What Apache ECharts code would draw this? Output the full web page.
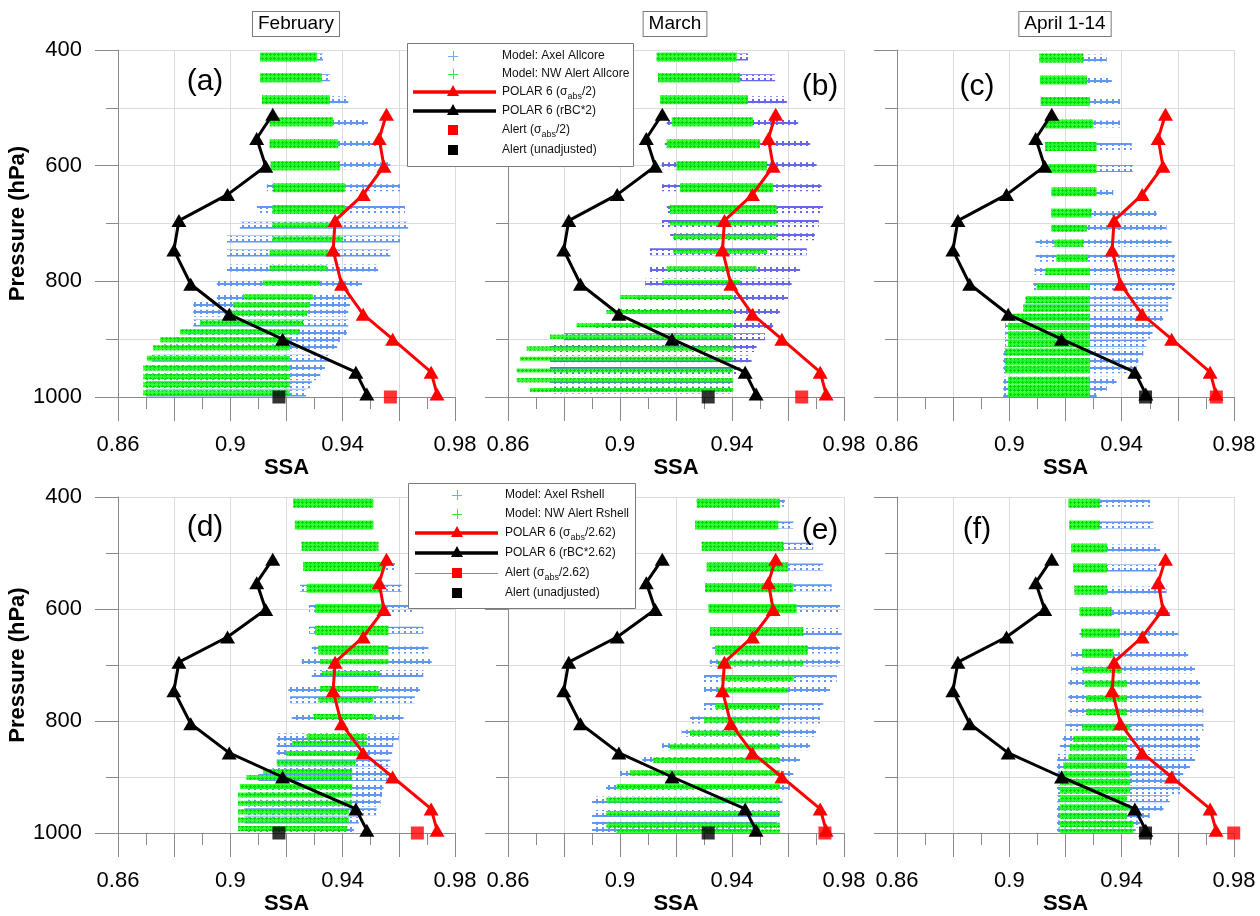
<!DOCTYPE html>
<html>
<head>
<meta charset="utf-8">
<script src="https://cdn.jsdelivr.net/npm/echarts/dist/echarts.min.js"></script>
<style>
  html, body { margin: 0; padding: 0; background: #fff; }
  #chart { width: 1260px; height: 916px; }
</style>
</head>
<body>
<div id="chart"></div>
<script>
// ---------------------------------------------------------------
// SSA profiles: POLAR 6 aircraft, Alert surface values and model rows
// ---------------------------------------------------------------

// POLAR 6 profile (pressure levels, hPa) shared by every panel
const polarPressure = [511, 553, 601, 650, 695, 746, 805, 857, 900, 957, 995];
const polarRbc = [0.9151, 0.9094, 0.9126, 0.8990, 0.8817, 0.8799, 0.8859, 0.8996, 0.9186, 0.9447, 0.9486];
const polarAbs = [0.9556, 0.9530, 0.9547, 0.9473, 0.9373, 0.9366, 0.9396, 0.9473, 0.9578, 0.9715, 0.9736];

// Alert surface values (at 1000 hPa)
const alertPressure = 1000;
const monthNames = ['February', 'March', 'April 1-14'];
const alertUnadjusted = [0.9173, 0.9315, 0.9485];
const alertAbsAllcore = [0.9570, 0.9649, 0.9737];
const alertAbsRshell = [0.9666, 0.9732, 0.9799];

// Model rows: [pressure hPa, lowest SSA, highest SSA]
const axelAllcoreFeb = [
  [412, 0.9106, 0.9330], [448, 0.9106, 0.9355], [486, 0.9113, 0.9420], [524, 0.9140, 0.9490],
  [562, 0.9140, 0.9545], [600, 0.9144, 0.9570], [638, 0.9130, 0.9604], [676, 0.9095, 0.9622],
  [703, 0.9034, 0.9633], [727, 0.8988, 0.9604], [751, 0.8988, 0.9570], [777, 0.8988, 0.9526],
  [803, 0.8952, 0.9469], [827, 0.8952, 0.9426], [841, 0.8868, 0.9426], [855, 0.8868, 0.9420],
  [872, 0.8868, 0.9420], [887, 0.8850, 0.9415], [901, 0.8800, 0.9390], [915, 0.8760, 0.9380],
  [933, 0.8720, 0.9355], [950, 0.8700, 0.9337], [965, 0.8700, 0.9320], [979, 0.8700, 0.9290],
  [993, 0.8700, 0.9270]
];
const nwAlertAllcoreFeb = [
  [412, 0.9106, 0.9309], [448, 0.9106, 0.9326], [486, 0.9113, 0.9355], [524, 0.9140, 0.9366],
  [562, 0.9140, 0.9384], [600, 0.9144, 0.9390], [638, 0.9152, 0.9408], [676, 0.9150, 0.9408],
  [703, 0.9150, 0.9384], [727, 0.9150, 0.9400], [751, 0.9140, 0.9379], [777, 0.9140, 0.9343],
  [803, 0.9116, 0.9319], [827, 0.9045, 0.9295], [841, 0.9010, 0.9284], [855, 0.8988, 0.9273],
  [872, 0.8892, 0.9259], [887, 0.8821, 0.9248], [901, 0.8750, 0.9212], [915, 0.8725, 0.9212],
  [933, 0.8703, 0.9212], [950, 0.8690, 0.9212], [965, 0.8690, 0.9212], [979, 0.8690, 0.9212],
  [993, 0.8690, 0.9212]
];
const axelAllcoreMar = [
  [412, 0.9131, 0.9457], [448, 0.9136, 0.9554], [486, 0.9143, 0.9596], [524, 0.9167, 0.9636],
  [562, 0.9160, 0.9679], [600, 0.9149, 0.9702], [638, 0.9150, 0.9720], [676, 0.9167, 0.9725],
  [700, 0.9150, 0.9710], [723, 0.9179, 0.9696], [749, 0.9107, 0.9667], [778, 0.9107, 0.9643],
  [801, 0.9090, 0.9613], [827, 0.9060, 0.9600], [853, 0.9000, 0.9571], [876, 0.8900, 0.9547],
  [896, 0.8800, 0.9518], [916, 0.8750, 0.9488], [934, 0.8750, 0.9470], [954, 0.8750, 0.9429],
  [971, 0.8750, 0.9404], [988, 0.8750, 0.9404]
];
const nwAlertAllcoreMar = [
  [412, 0.9131, 0.9417], [448, 0.9136, 0.9429], [486, 0.9143, 0.9457], [524, 0.9185, 0.9475],
  [562, 0.9167, 0.9500], [600, 0.9202, 0.9524], [638, 0.9214, 0.9547], [676, 0.9179, 0.9560],
  [700, 0.9179, 0.9560], [723, 0.9190, 0.9560], [749, 0.9190, 0.9525], [778, 0.9167, 0.9488],
  [801, 0.9155, 0.9429], [827, 0.9000, 0.9404], [853, 0.8952, 0.9404], [876, 0.8845, 0.9404],
  [896, 0.8750, 0.9404], [916, 0.8667, 0.9404], [934, 0.8643, 0.9404], [954, 0.8631, 0.9404],
  [971, 0.8631, 0.9404], [988, 0.8679, 0.9404]
];
const axelAllcoreApr = [
  [414, 0.9107, 0.9347], [452, 0.9109, 0.9365], [489, 0.9112, 0.9394], [528, 0.9127, 0.9394],
  [567, 0.9127, 0.9436], [605, 0.9139, 0.9440], [645, 0.9150, 0.9370], [682, 0.9149, 0.9525],
  [708, 0.9150, 0.9560], [734, 0.9094, 0.9578], [760, 0.9094, 0.9590], [783, 0.9090, 0.9590],
  [809, 0.9085, 0.9590], [832, 0.9058, 0.9578], [846, 0.9050, 0.9566], [862, 0.8995, 0.9548],
  [878, 0.8985, 0.9513], [893, 0.8985, 0.9510], [907, 0.8985, 0.9489], [922, 0.8978, 0.9477],
  [939, 0.8978, 0.9460], [953, 0.8978, 0.9454], [971, 0.8978, 0.9382], [984, 0.8978, 0.9347],
  [996, 0.8978, 0.9311]
];
const nwAlertAllcoreApr = [
  [414, 0.9107, 0.9263], [452, 0.9109, 0.9276], [489, 0.9112, 0.9287], [528, 0.9127, 0.9299],
  [567, 0.9127, 0.9311], [605, 0.9139, 0.9311], [645, 0.9150, 0.9311], [682, 0.9149, 0.9293],
  [708, 0.9150, 0.9275], [734, 0.9161, 0.9263], [760, 0.9167, 0.9280], [783, 0.9128, 0.9287],
  [809, 0.9097, 0.9287], [832, 0.9058, 0.9287], [846, 0.9050, 0.9287], [862, 0.9002, 0.9287],
  [878, 0.8995, 0.9287], [893, 0.8995, 0.9287], [907, 0.8995, 0.9287], [922, 0.8985, 0.9287],
  [939, 0.8985, 0.9287], [953, 0.8985, 0.9287], [971, 0.8995, 0.9287], [984, 0.8995, 0.9287],
  [996, 0.8995, 0.9287]
];
const axelRshellFeb = [
  [411, 0.9224, 0.9509], [450, 0.9230, 0.9509], [488, 0.9254, 0.9527], [524, 0.9260, 0.9586],
  [563, 0.9248, 0.9610], [599, 0.9280, 0.9652], [638, 0.9280, 0.9687], [673, 0.9290, 0.9705],
  [694, 0.9254, 0.9717], [715, 0.9290, 0.9687], [742, 0.9207, 0.9675], [762, 0.9213, 0.9657],
  [792, 0.9219, 0.9617], [828, 0.9165, 0.9600], [840, 0.9165, 0.9580], [858, 0.9165, 0.9576],
  [875, 0.9165, 0.9570], [890, 0.9150, 0.9565], [901, 0.9100, 0.9560], [917, 0.9060, 0.9545],
  [932, 0.9050, 0.9540], [947, 0.9050, 0.9535], [962, 0.9050, 0.9521], [977, 0.9050, 0.9458],
  [992, 0.9050, 0.9440]
];
const nwAlertRshellFeb = [
  [411, 0.9224, 0.9509], [450, 0.9230, 0.9509], [488, 0.9254, 0.9527], [524, 0.9260, 0.9545],
  [563, 0.9272, 0.9533], [599, 0.9302, 0.9545], [638, 0.9302, 0.9563], [673, 0.9314, 0.9563],
  [694, 0.9320, 0.9563], [715, 0.9326, 0.9533], [742, 0.9320, 0.9527], [762, 0.9314, 0.9509],
  [792, 0.9296, 0.9510], [828, 0.9272, 0.9485], [840, 0.9220, 0.9485], [858, 0.9200, 0.9460],
  [875, 0.9165, 0.9446], [890, 0.9117, 0.9434], [901, 0.9058, 0.9434], [917, 0.9034, 0.9434],
  [932, 0.9028, 0.9434], [947, 0.9028, 0.9434], [962, 0.9028, 0.9422], [977, 0.9028, 0.9422],
  [992, 0.9028, 0.9416]
];
const axelRshellMar = [
  [411, 0.9274, 0.9589], [450, 0.9268, 0.9619], [488, 0.9292, 0.9690], [525, 0.9310, 0.9726],
  [562, 0.9304, 0.9756], [599, 0.9316, 0.9786], [640, 0.9322, 0.9792], [673, 0.9330, 0.9786],
  [697, 0.9320, 0.9786], [724, 0.9300, 0.9774], [745, 0.9300, 0.9750], [774, 0.9300, 0.9726],
  [798, 0.9250, 0.9714], [822, 0.9220, 0.9700], [846, 0.9150, 0.9679], [870, 0.9080, 0.9643],
  [893, 0.9000, 0.9619], [917, 0.8950, 0.9607], [941, 0.8900, 0.9580], [965, 0.8900, 0.9570],
  [986, 0.8900, 0.9560], [998, 0.8900, 0.9500]
];
const nwAlertRshellMar = [
  [411, 0.9274, 0.9571], [450, 0.9268, 0.9565], [488, 0.9292, 0.9583], [525, 0.9310, 0.9600],
  [562, 0.9304, 0.9619], [599, 0.9316, 0.9631], [640, 0.9322, 0.9655], [673, 0.9340, 0.9670],
  [697, 0.9350, 0.9655], [724, 0.9360, 0.9620], [745, 0.9350, 0.9600], [774, 0.9340, 0.9571],
  [798, 0.9300, 0.9571], [822, 0.9250, 0.9571], [846, 0.9179, 0.9571], [870, 0.9119, 0.9571],
  [893, 0.9036, 0.9571], [917, 0.8988, 0.9571], [941, 0.8952, 0.9571], [965, 0.8952, 0.9571],
  [986, 0.8952, 0.9571], [998, 0.8988, 0.9571]
];
const axelRshellApr = [
  [411, 0.9290, 0.9501], [450, 0.9290, 0.9513], [491, 0.9300, 0.9537], [527, 0.9300, 0.9525],
  [566, 0.9300, 0.9560], [605, 0.9300, 0.9572], [643, 0.9250, 0.9602], [679, 0.9220, 0.9637],
  [709, 0.9220, 0.9661], [733, 0.9210, 0.9679], [760, 0.9210, 0.9684], [784, 0.9210, 0.9691],
  [811, 0.9200, 0.9691], [832, 0.9190, 0.9679], [847, 0.9180, 0.9679], [865, 0.9170, 0.9661],
  [880, 0.9170, 0.9643], [895, 0.9170, 0.9619], [909, 0.9170, 0.9608], [924, 0.9170, 0.9608],
  [939, 0.9170, 0.9572], [954, 0.9170, 0.9549], [969, 0.9170, 0.9500], [984, 0.9170, 0.9465],
  [998, 0.9170, 0.9450]
];
const nwAlertRshellApr = [
  [411, 0.9210, 0.9323], [450, 0.9213, 0.9323], [491, 0.9220, 0.9347], [527, 0.9227, 0.9347],
  [566, 0.9232, 0.9347], [605, 0.9250, 0.9365], [643, 0.9256, 0.9394], [679, 0.9260, 0.9370],
  [709, 0.9262, 0.9400], [733, 0.9268, 0.9418], [760, 0.9274, 0.9418], [784, 0.9274, 0.9418],
  [811, 0.9260, 0.9430], [832, 0.9227, 0.9418], [847, 0.9215, 0.9418], [865, 0.9210, 0.9418],
  [880, 0.9192, 0.9418], [895, 0.9186, 0.9430], [909, 0.9180, 0.9430], [924, 0.9180, 0.9430],
  [939, 0.9180, 0.9418], [954, 0.9180, 0.9430], [969, 0.9180, 0.9418], [984, 0.9180, 0.9442],
  [998, 0.9180, 0.9442]
];

const panelTags = ['(a)', '(b)', '(c)', '(d)', '(e)', '(f)'];
const axelRows = [axelAllcoreFeb, axelAllcoreMar, axelAllcoreApr, axelRshellFeb, axelRshellMar, axelRshellApr];
const nwAlertRows = [nwAlertAllcoreFeb, nwAlertAllcoreMar, nwAlertAllcoreApr, nwAlertRshellFeb, nwAlertRshellMar, nwAlertRshellApr];

// ---------------------------------------------------------------
// Layout and styling
// ---------------------------------------------------------------
const FONT = '"Liberation Sans", Arial, Helvetica, sans-serif';
const colLeft = [118, 508, 897];
const colWidth = [337, 336, 337];
const rowTop = [50, 497];
const rowHeight = [347, 336];
const axisGray = '#8a8a8a';
const gridGray = '#dcdcdc';
const RED = '#ff0000';

// per-panel marker colours / streak thickness
const axelColor = ['#6196f2', '#6666ee', '#6196f2', '#6196f2', '#6196f2', '#6196f2'];
const greenLowHeight = [5, 4, 7, 5, 5, 6];

// repeating "+" marker tiles
function axelTile(color) {
  const c = document.createElement('canvas');
  c.width = 6; c.height = 7;
  const g = c.getContext('2d');
  g.fillStyle = color;
  g.fillRect(0, 3, 6, 2);   // horizontal stroke
  g.fillRect(2, 1, 2, 5);   // vertical stroke
  return c;
}
function greenCross() {
  const c = document.createElement('canvas');
  c.width = 4; c.height = 4;
  const g = c.getContext('2d');
  g.fillStyle = '#00d800';
  g.fillRect(1, 2, 3, 1);
  g.fillRect(2, 1, 1, 3);
  return c;
}
const greenTile = greenCross();
const axelTiles = {};
axelColor.forEach(col => { if (!axelTiles[col]) axelTiles[col] = axelTile(col); });

// one horizontal streak of "+" markers per model row
function rowRenderer(tile, heightFor, baseFill) {
  return function (params, api) {
    const p = api.value(0);
    const a = api.coord([api.value(1), p]);
    const b = api.coord([api.value(2), p]);
    const h = heightFor(p);
    const shape = { x: a[0], y: a[1] - h / 2, width: Math.max(b[0] - a[0], 2), height: h };
    const children = [];
    if (baseFill) children.push({ type: 'rect', shape: shape, style: { fill: baseFill } });
    children.push({ type: 'rect', shape: shape, style: { fill: { image: tile, repeat: 'repeat' } } });
    return { type: 'group', children: children };
  };
}

function ssaLabel(v) {
  const k = Math.round((v - 0.86) / 0.02);
  return k % 2 === 0 ? String(+v.toFixed(2)) : '';
}

const grids = [], xAxes = [], yAxes = [], series = [];

for (let i = 0; i < 6; i++) {
  const r = Math.floor(i / 3), c = i % 3;
  grids.push({ left: colLeft[c], top: rowTop[r], width: colWidth[c], height: rowHeight[r] });

  xAxes.push({
    gridIndex: i, type: 'value', min: 0.86, max: 0.98, interval: 0.02,
    axisLine: { show: true, onZero: false, lineStyle: { color: axisGray, width: 1 } },
    axisTick: { show: true, length: 24, lineStyle: { color: axisGray } },
    minorTick: { show: true, splitNumber: 2, length: 12, lineStyle: { color: axisGray } },
    splitLine: { show: true, lineStyle: { color: gridGray, width: 1 } },
    minorSplitLine: { show: false },
    axisLabel: {
      show: true, margin: 37, fontSize: 22, fontFamily: FONT, color: '#000',
      formatter: ssaLabel, showMinLabel: true, showMaxLabel: true, hideOverlap: false
    },
    name: 'SSA', nameLocation: 'middle', nameGap: 59,
    nameTextStyle: { fontSize: 22, fontWeight: 'bold', fontFamily: FONT, color: '#000' }
  });

  yAxes.push({
    gridIndex: i, type: 'value', inverse: true, min: 400, max: 1000, interval: 200,
    axisLine: { show: true, onZero: false, lineStyle: { color: axisGray, width: 1 } },
    axisTick: { show: true, length: 23, lineStyle: { color: axisGray } },
    minorTick: { show: true, splitNumber: 2, length: 12, lineStyle: { color: axisGray } },
    splitLine: { show: true, lineStyle: { color: gridGray, width: 1 } },
    minorSplitLine: { show: true, lineStyle: { color: gridGray, width: 1 } },
    axisLabel: {
      show: c === 0, margin: 36, fontSize: 22, fontFamily: FONT, color: '#000',
      formatter: v => String(Math.round(v))
    },
    name: c === 0 ? 'Pressure (hPa)' : '', nameLocation: 'middle', nameGap: 82,
    nameTextStyle: { fontSize: 22, fontWeight: 'bold', fontFamily: FONT, color: '#000' }
  });

  const lowH = greenLowHeight[i];
  series.push({
    type: 'custom', name: 'Axel', xAxisIndex: i, yAxisIndex: i, clip: true,
    encode: { x: [1, 2], y: 0 },
    data: axelRows[i],
    renderItem: rowRenderer(axelTiles[axelColor[i]], p => 7, null),
    z: 2, silent: true
  });
  series.push({
    type: 'custom', name: 'NW Alert', xAxisIndex: i, yAxisIndex: i, clip: true,
    encode: { x: [1, 2], y: 0 },
    data: nwAlertRows[i],
    renderItem: rowRenderer(greenTile, p => (p < 690 ? 9 : lowH), 'rgba(25,255,25,0.88)'),
    z: 3, silent: true
  });

  const lineCommon = {
    type: 'line', xAxisIndex: i, yAxisIndex: i, clip: false, symbol: 'triangle',
    symbolSize: [15, 13], z: 5, silent: true, animation: false
  };
  series.push(Object.assign({}, lineCommon, {
    name: 'POLAR 6 rBC',
    data: polarPressure.map((p, k) => [polarRbc[k], p]),
    lineStyle: { color: '#000', width: 3 }, itemStyle: { color: '#000' }
  }));
  series.push(Object.assign({}, lineCommon, {
    name: 'POLAR 6 abs',
    data: polarPressure.map((p, k) => [polarAbs[k], p]),
    lineStyle: { color: RED, width: 3 }, itemStyle: { color: RED }
  }));

  const absAlert = (r === 0 ? alertAbsAllcore : alertAbsRshell)[c];
  series.push({
    type: 'scatter', name: 'Alert abs', xAxisIndex: i, yAxisIndex: i, clip: false,
    symbol: 'rect', symbolSize: 13, z: 6, silent: true,
    data: [[absAlert, alertPressure]], itemStyle: { color: RED }
  });
  series.push({
    type: 'scatter', name: 'Alert unadjusted', xAxisIndex: i, yAxisIndex: i, clip: false,
    symbol: 'rect', symbolSize: 13, z: 6, silent: true,
    data: [[alertUnadjusted[c], alertPressure]], itemStyle: { color: '#000' }
  });
}

// ---------------------------------------------------------------
// Titles, panel tags and legends
// ---------------------------------------------------------------
const graphics = [];
const titleCenters = [[296, 24], [675, 24], [1065, 24]];
monthNames.forEach((m, k) => {
  graphics.push({
    type: 'text', x: titleCenters[k][0], y: titleCenters[k][1], z: 20,
    style: {
      text: m, font: '19px ' + FONT, fill: '#000', align: 'center', verticalAlign: 'middle',
      backgroundColor: '#fff', borderColor: '#7a7a7a', borderWidth: 1, padding: [3, 5, 2, 5]
    }
  });
});
const tagPos = [[205, 82], [820, 87], [977, 87], [205, 528], [820, 531], [977, 530]];
panelTags.forEach((t, k) => {
  graphics.push({
    type: 'text', x: tagPos[k][0], y: tagPos[k][1], z: 20,
    style: { text: t, font: '30px ' + FONT, fill: '#000', align: 'center', verticalAlign: 'middle' }
  });
});

const richStyle = {
  m: { fontSize: 12, fontFamily: FONT, fill: '#111', lineHeight: 18 },
  s: { fontSize: 9, fontFamily: FONT, fill: '#111', lineHeight: 9, verticalAlign: 'bottom' }
};

function legend(box, symX, lineX0, lineX1, textX, rows, labels) {
  const g = [];
  g.push({ type: 'rect', z: 30, shape: { x: box[0] + 0.5, y: box[1] + 0.5, width: box[2], height: box[3] },
    style: { fill: '#fff', stroke: '#7a7a7a', lineWidth: 1 } });
  labels.forEach((lab, k) => {
    const y = rows[k];
    if (lab.kind === 'cross') {
      g.push({ type: 'line', z: 31, shape: { x1: symX - 5, y1: y + 0.5, x2: symX + 5, y2: y + 0.5 }, style: { stroke: lab.color, lineWidth: 1 } });
      g.push({ type: 'line', z: 31, shape: { x1: symX + 0.5, y1: y - 5, x2: symX + 0.5, y2: y + 5 }, style: { stroke: lab.color, lineWidth: 1 } });
    } else if (lab.kind === 'line') {
      g.push({ type: 'line', z: 31, shape: { x1: lineX0, y1: y, x2: lineX1, y2: y }, style: { stroke: lab.color, lineWidth: 3.5 } });
      g.push({ type: 'polygon', z: 32, shape: { points: [[symX, y - 7], [symX + 6, y + 4], [symX - 6, y + 4]] }, style: { fill: lab.color } });
    } else if (lab.kind === 'square') {
      if (lab.thin) {
        g.push({ type: 'line', z: 31, shape: { x1: lineX0, y1: y + 0.5, x2: lineX1, y2: y + 0.5 }, style: { stroke: '#8a8a8a', lineWidth: 1 } });
      }
      g.push({ type: 'rect', z: 32, shape: { x: symX - 5, y: y - 5, width: 10, height: 10 }, style: { fill: lab.color } });
    }
    g.push({ type: 'text', z: 33, x: textX, y: y,
      style: { text: lab.text, rich: richStyle, align: 'left', verticalAlign: 'middle', font: '12px ' + FONT, fill: '#111' } });
  });
  return g;
}

graphics.push(...legend([407, 43, 226, 123], 453, 413, 496, 502, [56, 74, 92, 111, 130, 150], [
  { kind: 'cross', color: '#7fa6f5', text: '{m|Model: Axel Allcore}' },
  { kind: 'cross', color: '#33ee33', text: '{m|Model: NW Alert Allcore}' },
  { kind: 'line', color: RED, text: '{m|POLAR 6 (σ}{s|abs}{m|/2)}' },
  { kind: 'line', color: '#000', text: '{m|POLAR 6 (rBC*2)}' },
  { kind: 'square', color: RED, text: '{m|Alert (σ}{s|abs}{m|/2)}' },
  { kind: 'square', color: '#000', text: '{m|Alert (unadjusted)}' }
]));
graphics.push(...legend([408, 483, 227, 125], 457, 415, 498, 505, [495, 514, 533, 553, 573, 593], [
  { kind: 'cross', color: '#7fa6f5', text: '{m|Model: Axel Rshell}' },
  { kind: 'cross', color: '#33ee33', text: '{m|Model: NW Alert Rshell}' },
  { kind: 'line', color: RED, text: '{m|POLAR 6 (σ}{s|abs}{m|/2.62)}' },
  { kind: 'line', color: '#000', text: '{m|POLAR 6 (rBC*2.62)}' },
  { kind: 'square', color: RED, thin: true, text: '{m|Alert (σ}{s|abs}{m|/2.62)}' },
  { kind: 'square', color: '#000', text: '{m|Alert (unadjusted)}' }
]));

const chart = echarts.init(document.getElementById('chart'), null, { renderer: 'canvas' });
chart.setOption({
  backgroundColor: '#fff',
  animation: false,
  textStyle: { fontFamily: FONT },
  grid: grids,
  xAxis: xAxes,
  yAxis: yAxes,
  series: series,
  graphic: graphics
});
</script>
</body>
</html>
